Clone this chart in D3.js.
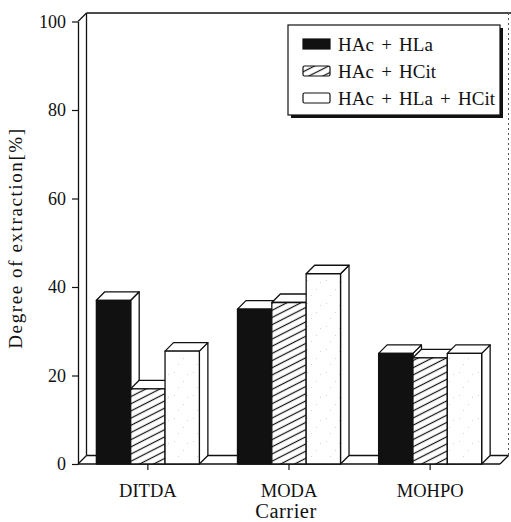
<!DOCTYPE html>
<html>
<head>
<meta charset="utf-8">
<script src="https://cdn.jsdelivr.net/npm/d3@7"></script>
<style>
  html, body { margin: 0; padding: 0; background: #fff; }
  svg { display: block; }
  text { font-family: "Liberation Serif", "DejaVu Serif", serif; fill: #111; }
</style>
</head>
<body>
<svg id="chart" width="511" height="522"></svg>
<script>
// Extraction degree by carrier and acid mixture
const categories = ["DITDA", "MODA", "MOHPO"];
const seriesNames = ["HAc+HLa", "HAc+HCit", "HAc+HLa+HCit"];
const valuesHAcHLa = [37, 35, 25];
const valuesHAcHCit = [17, 36.5, 24];
const valuesHAcHLaHCit = [25.5, 43, 25];
const yTicks = [0, 20, 40, 60, 80, 100];
const xTitle = "Carrier";
const yTitle = "Degree of extraction[%]";

const seriesValues = [valuesHAcHLa, valuesHAcHCit, valuesHAcHLaHCit];

const svg = d3.select("#chart");
const ink = "#111";
const serif = '"Liberation Serif", "DejaVu Serif", serif';
const depth = 8.5;                        // oblique offset of the 3D box
const plotLeft = 78, plotRight = 500;     // front plane x extent
const plotBase = 464, plotTop = 21.5;     // front plane y extent

const y = d3.scaleLinear().domain([0, 100]).range([plotBase, plotTop]);
const x = d3.scaleBand().domain(categories).range([plotLeft, plotRight])
  .paddingInner(0.27).paddingOuter(0.13);
const xs = d3.scaleBand().domain(seriesNames).range([0, x.bandwidth()]);

// fills
const defs = svg.append("defs");
const hatch = defs.append("pattern").attr("id", "hatch")
  .attr("patternUnits", "userSpaceOnUse").attr("width", 10).attr("height", 6.4)
  .attr("patternTransform", "rotate(-27)");
hatch.append("rect").attr("width", 10).attr("height", 6.4).attr("fill", "#fff");
hatch.append("line").attr("x1", 0).attr("x2", 10).attr("y1", 3.2).attr("y2", 3.2)
  .attr("stroke", ink).attr("stroke-width", 1.2);

const dots = defs.append("pattern").attr("id", "dots")
  .attr("patternUnits", "userSpaceOnUse").attr("width", 19).attr("height", 23);
dots.append("rect").attr("width", 19).attr("height", 23).attr("fill", "#fff");
[[3, 4], [12, 13], [7, 19], [16, 6]].forEach(([cx, cy]) =>
  dots.append("rect").attr("x", cx).attr("y", cy).attr("width", 1).attr("height", 1).attr("fill", "#d4d4d4"));

const fills = [ink, "url(#hatch)", "url(#dots)"];

// back wall and floor
const frame = svg.append("g").attr("fill", "none").attr("stroke", ink).attr("stroke-width", 1.3);
frame.append("line").attr("x1", plotLeft + depth).attr("x2", 511).attr("y1", plotTop - depth).attr("y2", plotTop - depth);
frame.append("line").attr("x1", plotLeft + depth).attr("x2", plotLeft + depth).attr("y1", plotTop - depth).attr("y2", plotBase - depth);
frame.append("line").attr("x1", plotRight + depth).attr("x2", plotRight + depth).attr("y1", plotTop - depth).attr("y2", plotBase - depth)
  .attr("stroke-dasharray", "2,3").attr("stroke-width", 1).attr("stroke", "#555");
frame.append("line").attr("x1", plotLeft + depth).attr("x2", plotRight + depth).attr("y1", plotBase - depth).attr("y2", plotBase - depth);
frame.append("line").attr("x1", plotLeft).attr("x2", plotLeft + depth).attr("y1", plotTop).attr("y2", plotTop - depth);
frame.append("line").attr("x1", plotLeft).attr("x2", plotLeft + depth).attr("y1", plotBase).attr("y2", plotBase - depth);
frame.append("line").attr("x1", plotRight).attr("x2", plotRight + depth).attr("y1", plotBase).attr("y2", plotBase - depth);
frame.append("line").attr("x1", plotLeft).attr("x2", plotRight).attr("y1", plotBase).attr("y2", plotBase);

// bars, painted left to right so each front face hides its neighbour's side
const bars = svg.append("g").attr("stroke", ink).attr("stroke-width", 1.3).attr("stroke-linejoin", "round");
categories.forEach((cat, ci) => {
  seriesNames.forEach((s, si) => {
    const v = seriesValues[si][ci];
    const x0 = x(cat) + xs(s), x1 = x0 + xs.bandwidth();
    const yt = y(v), y0 = y(0);
    const g = bars.append("g");
    g.append("polygon").attr("fill", "#fff")
      .attr("points", [[x1, yt], [x1 + depth, yt - depth], [x1 + depth, y0 - depth], [x1, y0]].join(" "));
    g.append("polygon").attr("fill", "#fff")
      .attr("points", [[x0, yt], [x0 + depth, yt - depth], [x1 + depth, yt - depth], [x1, yt]].join(" "));
    g.append("rect").attr("x", x0).attr("y", yt).attr("width", x1 - x0).attr("height", y0 - yt)
      .attr("fill", fills[si]);
  });
});

// axes
const yAxis = svg.append("g").attr("transform", `translate(${plotLeft},0)`)
  .call(d3.axisLeft(y).tickValues(yTicks).tickSize(6).tickSizeOuter(0).tickPadding(6));
yAxis.attr("font-family", null).attr("font-size", null);
yAxis.select(".domain").attr("stroke", ink).attr("stroke-width", 1.3);
yAxis.selectAll(".tick line").attr("stroke", ink).attr("stroke-width", 1.2);
yAxis.selectAll(".tick text").style("font-family", serif).style("font-size", "18px").attr("fill", ink);

const xAxis = svg.append("g").attr("transform", `translate(0,${plotBase})`)
  .call(d3.axisBottom(x).tickSize(6).tickSizeOuter(0).tickPadding(14));
xAxis.attr("font-family", null).attr("font-size", null);
xAxis.select(".domain").remove();
xAxis.selectAll(".tick line").attr("stroke", ink).attr("stroke-width", 1.2);
xAxis.selectAll(".tick text").style("font-family", serif).style("font-size", "18.5px").attr("fill", ink);

svg.append("text").attr("x", 286).attr("y", 518)
  .attr("text-anchor", "middle").style("font-size", "20.5px").style("letter-spacing", "0.5px").text(xTitle);
svg.append("text").attr("transform", "translate(22,238) rotate(-90)")
  .attr("text-anchor", "middle").style("font-size", "19px").style("letter-spacing", "1.6px").text(yTitle);

// legend with drop shadow
const lg = svg.append("g");
lg.append("rect").attr("x", 291).attr("y", 28).attr("width", 212).attr("height", 90).attr("fill", ink);
lg.append("rect").attr("x", 288).attr("y", 25).attr("width", 212).attr("height", 90)
  .attr("fill", "#fff").attr("stroke", ink).attr("stroke-width", 1.2);
const rowY = [44, 71, 98];
seriesNames.forEach((s, i) => {
  lg.append("rect").attr("x", 303).attr("y", rowY[i] - 5).attr("width", 27).attr("height", 10)
    .attr("fill", i === 2 ? "#fff" : fills[i]).attr("stroke", ink).attr("stroke-width", 1.2).attr("rx", i === 0 ? 0 : 1.5);
  lg.append("text").attr("x", 338).attr("y", rowY[i] + 6.5).style("font-size", "19px")
    .style("word-spacing", "2.5px").text(s.replace(/\+/g, " + "));
});
</script>
</body>
</html>
